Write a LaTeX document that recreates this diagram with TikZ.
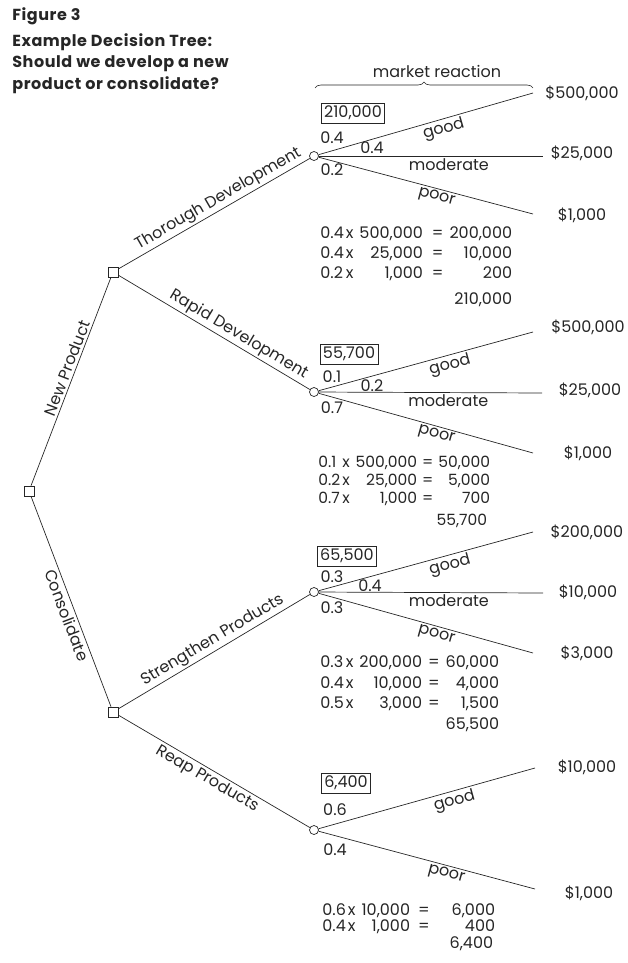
\documentclass[tikz,border=0pt]{standalone}
\usepackage{fontspec}
\setmainfont{Poppins}
\usetikzlibrary{positioning,decorations.pathreplacing}

\tikzset{
  decision/.style={draw, rectangle, minimum size=10pt, inner sep=0pt, fill=white},
  chance/.style={draw, circle, minimum size=9pt, inner sep=0pt, fill=white},
  lbl/.style={font=\fontsize{16}{18}\selectfont, inner sep=2pt},
  evbox/.style={draw, font=\fontsize{16}{18}\selectfont, inner sep=3pt},
  pay/.style={font=\fontsize{16}{18}\selectfont},
  calcblock/.style={anchor=base west, inner sep=0pt},
  heading/.style={font={\bfseries\fontsize{16}{21.5}\selectfont\addfontfeatures{LetterSpace=3.5}},
                  inner sep=0pt, align=left}
}

\begin{document}
\begin{tikzpicture}[x=1pt, y=-1pt, line width=0.7pt, color=black!85]
    \useasboundingbox (0,0) rectangle (627,963);

    % Title
    \node[heading, anchor=west] (fig) at (12,16) {Figure 3};
    \node[heading, anchor=north west] (head) at (12,33)
        {Example Decision Tree:\\Should we develop a new\\product or consolidate?};

    % Decision nodes
    \node[decision] (root) at (29,491) {};
    \node[decision] (np) at (113,272) {};
    \node[decision] (cons) at (113,712) {};

    % Chance nodes
    \node[chance] (thor) at (314,156) {};
    \node[chance] (rapid) at (314,392) {};
    \node[chance] (stren) at (314,592) {};
    \node[chance] (reap) at (314,830) {};

    % Decision branches
    \draw (root) -- node[lbl, pos=0.55, above, sloped] {New Product} (np);
    \draw (root) -- node[lbl, pos=0.55, below, sloped] {Consolidate} (cons);
    \draw (np) -- node[lbl, pos=0.55, above, sloped] {Thorough Development} (thor);
    \draw (np) -- node[lbl, pos=0.6, above, sloped] {Rapid Development} (rapid);
    \draw (cons) -- node[lbl, pos=0.52, above, sloped] {Strengthen Products} (stren);
    \draw (cons) -- node[lbl, pos=0.49, below, sloped] {Reap Products} (reap);

    % Market reaction brace
    \draw[decorate, decoration={brace, amplitude=6pt}, line width=0.6pt] (315,88) -- (533,88);
    \node[lbl] (mkt) at (437,71) {market reaction};

    % Thorough development outcomes
    \coordinate (t1) at (533,93);
    \coordinate (t2) at (543,156);
    \coordinate (t3) at (533,214);
    \draw (thor) -- node[lbl, pos=0.57, below, sloped] {good} (t1);
    \draw (thor) -- node[lbl, pos=0.58, below] {moderate} (t2);
    \draw (thor) -- node[lbl, pos=0.56, below, sloped] {poor} (t3);
    \node[pay] (t1v) at (582,93) {\$500,000};
    \node[pay] (t2v) at (582,153) {\$25,000};
    \node[pay] (t3v) at (582,215) {\$1,000};
    \node[evbox] (thorev) at (353,113) {210,000};
    \node[lbl] (tp1) at (332,138) {0.4};
    \node[lbl] (tp2) at (372,148) {0.4};
    \node[lbl] (tp3) at (332,170) {0.2};
    \node[calcblock, font=\fontsize{16}{20}\selectfont] (tcalc) at (320,238.5)
        {\begin{tabular}[t]{@{}l@{\hspace{2pt}}l@{\hspace{6pt}}r@{\hspace{9pt}}c@{\hspace{6pt}}r@{}}
         0.4 & x & 500,000 & = & 200,000\\
         0.4 & x & 25,000 & = & 10,000\\
         0.2 & x & 1,000 & = & 200\\[6pt]
         \multicolumn{5}{r@{}}{210,000}
         \end{tabular}};

    % Rapid development outcomes
    \coordinate (r1) at (533,332);
    \coordinate (r2) at (542,393);
    \coordinate (r3) at (533,453);
    \draw (rapid) -- node[lbl, pos=0.6, below, sloped] {good} (r1);
    \draw (rapid) -- node[lbl, pos=0.58, below] {moderate} (r2);
    \draw (rapid) -- node[lbl, pos=0.56, below, sloped] {poor} (r3);
    \node[pay] (r1v) at (588,327) {\$500,000};
    \node[pay] (r2v) at (590,390) {\$25,000};
    \node[pay] (r3v) at (588,453) {\$1,000};
    \node[evbox] (rapidev) at (349,354) {55,700};
    \node[lbl] (rp1) at (332,377) {0.1};
    \node[lbl] (rp2) at (372,386) {0.2};
    \node[lbl] (rp3) at (332,408) {0.7};
    \node[calcblock, font=\fontsize{15.5}{18}\selectfont] (rcalc) at (318,467)
        {\begin{tabular}[t]{@{}l@{\hspace{2pt}}l@{\hspace{6pt}}r@{\hspace{5pt}}c@{\hspace{5pt}}r@{}}
         0.1 & x & 500,000 & = & 50,000\\
         0.2 & x & 25,000 & = & 5,000\\
         0.7 & x & 1,000 & = & 700\\[4pt]
         \multicolumn{5}{r@{\hspace{3pt}}}{55,700}
         \end{tabular}};

    % Strengthen products outcomes
    \coordinate (s1) at (533,532);
    \coordinate (s2) at (543,593);
    \coordinate (s3) at (533,653);
    \draw (stren) -- node[lbl, pos=0.6, below, sloped] {good} (s1);
    \draw (stren) -- node[lbl, pos=0.58, below] {moderate} (s2);
    \draw (stren) -- node[lbl, pos=0.56, below, sloped] {poor} (s3);
    \node[pay] (s1v) at (587,532) {\$200,000};
    \node[pay] (s2v) at (588,592) {\$10,000};
    \node[pay] (s3v) at (587,653) {\$3,000};
    \node[evbox] (strenev) at (347,556) {65,500};
    \node[lbl] (sp1) at (332,577) {0.3};
    \node[lbl] (sp2) at (370,586) {0.4};
    \node[lbl] (sp3) at (332,608) {0.3};
    \node[calcblock, font=\fontsize{16}{20.5}\selectfont] (scalc) at (320,667.5)
        {\begin{tabular}[t]{@{}l@{\hspace{2pt}}l@{\hspace{6pt}}r@{\hspace{6pt}}c@{\hspace{6pt}}r@{}}
         0.3 & x & 200,000 & = & 60,000\\
         0.4 & x & 10,000 & = & 4,000\\
         0.5 & x & 3,000 & = & 1,500\\
         \multicolumn{5}{r@{}}{65,500}
         \end{tabular}};

    % Reap products outcomes
    \coordinate (p1) at (535,768);
    \coordinate (p2) at (535,889);
    \draw (reap) -- node[lbl, pos=0.615, below, sloped] {good} (p1);
    \draw (reap) -- node[lbl, pos=0.6, below, sloped] {poor} (p2);
    \node[pay] (p1v) at (587,767) {\$10,000};
    \node[pay] (p2v) at (589,893) {\$1,000};
    \node[evbox] (reapev) at (346,783) {6,400};
    \node[lbl] (pp1) at (335,810) {0.6};
    \node[lbl] (pp2) at (335,850) {0.4};
    \node[calcblock, font=\fontsize{16}{16.5}\selectfont] (pcalc) at (322,915)
        {\begin{tabular}[t]{@{}l@{\hspace{2pt}}l@{\hspace{6pt}}r@{\hspace{8pt}}c@{\hspace{22pt}}r@{}}
         0.6 & x & 10,000 & = & 6,000\\
         0.4 & x & 1,000 & = & 400\\
         \multicolumn{5}{r@{\hspace{2pt}}}{6,400}
         \end{tabular}};
\end{tikzpicture}
\end{document}
